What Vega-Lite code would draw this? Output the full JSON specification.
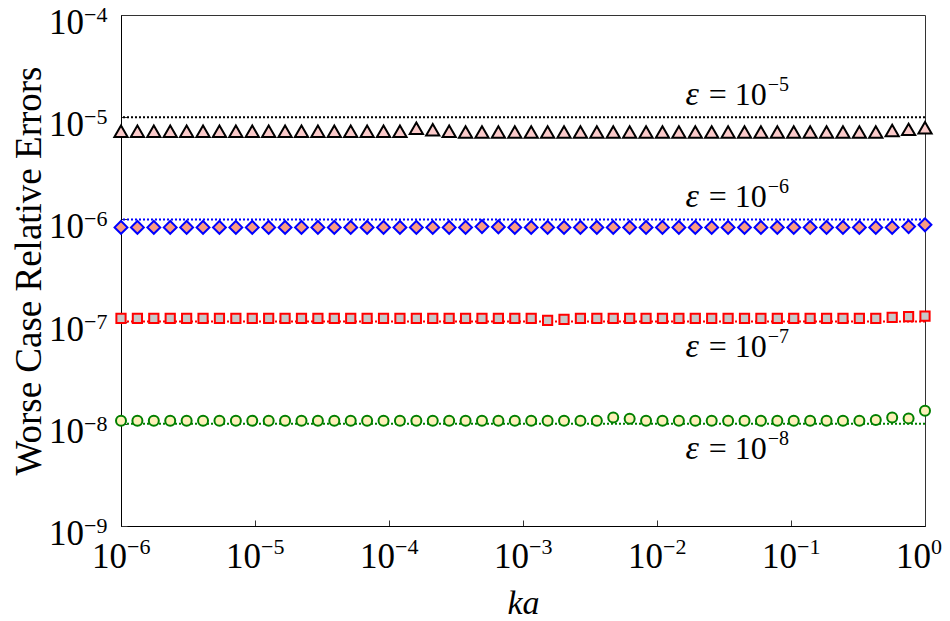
{
  "$schema": "https://vega.github.io/schema/vega-lite/v6.json",
  "width": 804,
  "height": 511,
  "autosize": {"type": "none"},
  "padding": {"left": 121, "top": 15, "right": 25, "bottom": 95},
  "background": "white",
  "config": {
    "view": {"stroke": "#333333", "strokeWidth": 1},
    "font": "Liberation Serif",
    "axis": {
      "grid": false,
      "labels": false,
      "domainColor": "#000000",
      "domainWidth": 1,
      "tickColor": "#333333",
      "titleFont": "Liberation Serif",
      "titleColor": "#000000",
      "titleFontWeight": "normal"
    },
    "text": {"font": "Liberation Serif", "color": "#000000"}
  },
  "datasets": {
    "pts": [
      {"ka": 1.0e-6, "e5": 7.3e-6, "e6": 8.35e-7, "e7": 1.075e-7, "e8": 1.07e-8},
      {"ka": 1.3257e-6, "e5": 7.3e-6, "e6": 8.35e-7, "e7": 1.075e-7, "e8": 1.07e-8},
      {"ka": 1.7575e-6, "e5": 7.3e-6, "e6": 8.35e-7, "e7": 1.075e-7, "e8": 1.07e-8},
      {"ka": 2.3300e-6, "e5": 7.3e-6, "e6": 8.35e-7, "e7": 1.075e-7, "e8": 1.07e-8},
      {"ka": 3.0888e-6, "e5": 7.3e-6, "e6": 8.35e-7, "e7": 1.075e-7, "e8": 1.07e-8},
      {"ka": 4.0949e-6, "e5": 7.3e-6, "e6": 8.35e-7, "e7": 1.075e-7, "e8": 1.07e-8},
      {"ka": 5.4287e-6, "e5": 7.3e-6, "e6": 8.35e-7, "e7": 1.075e-7, "e8": 1.07e-8},
      {"ka": 7.1969e-6, "e5": 7.3e-6, "e6": 8.35e-7, "e7": 1.075e-7, "e8": 1.07e-8},
      {"ka": 9.5410e-6, "e5": 7.3e-6, "e6": 8.35e-7, "e7": 1.075e-7, "e8": 1.07e-8},
      {"ka": 1.2649e-5, "e5": 7.3e-6, "e6": 8.35e-7, "e7": 1.075e-7, "e8": 1.07e-8},
      {"ka": 1.6768e-5, "e5": 7.3e-6, "e6": 8.35e-7, "e7": 1.075e-7, "e8": 1.07e-8},
      {"ka": 2.2230e-5, "e5": 7.3e-6, "e6": 8.35e-7, "e7": 1.075e-7, "e8": 1.07e-8},
      {"ka": 2.9471e-5, "e5": 7.3e-6, "e6": 8.35e-7, "e7": 1.075e-7, "e8": 1.07e-8},
      {"ka": 3.9069e-5, "e5": 7.3e-6, "e6": 8.35e-7, "e7": 1.075e-7, "e8": 1.07e-8},
      {"ka": 5.1795e-5, "e5": 7.3e-6, "e6": 8.35e-7, "e7": 1.075e-7, "e8": 1.07e-8},
      {"ka": 6.8665e-5, "e5": 7.3e-6, "e6": 8.35e-7, "e7": 1.075e-7, "e8": 1.07e-8},
      {"ka": 9.1030e-5, "e5": 7.3e-6, "e6": 8.35e-7, "e7": 1.075e-7, "e8": 1.07e-8},
      {"ka": 1.2068e-4, "e5": 7.3e-6, "e6": 8.35e-7, "e7": 1.075e-7, "e8": 1.07e-8},
      {"ka": 1.5999e-4, "e5": 7.8e-6, "e6": 8.35e-7, "e7": 1.075e-7, "e8": 1.07e-8},
      {"ka": 2.1210e-4, "e5": 7.55e-6, "e6": 8.35e-7, "e7": 1.075e-7, "e8": 1.07e-8},
      {"ka": 2.8118e-4, "e5": 7.3e-6, "e6": 8.35e-7, "e7": 1.075e-7, "e8": 1.07e-8},
      {"ka": 3.7276e-4, "e5": 7.15e-6, "e6": 8.35e-7, "e7": 1.075e-7, "e8": 1.07e-8},
      {"ka": 4.9417e-4, "e5": 7.15e-6, "e6": 8.5e-7, "e7": 1.075e-7, "e8": 1.07e-8},
      {"ka": 6.5513e-4, "e5": 7.15e-6, "e6": 8.45e-7, "e7": 1.075e-7, "e8": 1.07e-8},
      {"ka": 8.6851e-4, "e5": 7.15e-6, "e6": 8.35e-7, "e7": 1.075e-7, "e8": 1.07e-8},
      {"ka": 1.1514e-3, "e5": 7.15e-6, "e6": 8.35e-7, "e7": 1.075e-7, "e8": 1.07e-8},
      {"ka": 1.5264e-3, "e5": 7.15e-6, "e6": 8.35e-7, "e7": 1.03e-7, "e8": 1.07e-8},
      {"ka": 2.0236e-3, "e5": 7.15e-6, "e6": 8.35e-7, "e7": 1.05e-7, "e8": 1.07e-8},
      {"ka": 2.6827e-3, "e5": 7.15e-6, "e6": 8.35e-7, "e7": 1.075e-7, "e8": 1.07e-8},
      {"ka": 3.5565e-3, "e5": 7.15e-6, "e6": 8.35e-7, "e7": 1.075e-7, "e8": 1.07e-8},
      {"ka": 4.7149e-3, "e5": 7.15e-6, "e6": 8.35e-7, "e7": 1.075e-7, "e8": 1.15e-8},
      {"ka": 6.2506e-3, "e5": 7.15e-6, "e6": 8.35e-7, "e7": 1.075e-7, "e8": 1.12e-8},
      {"ka": 8.2864e-3, "e5": 7.15e-6, "e6": 8.35e-7, "e7": 1.075e-7, "e8": 1.07e-8},
      {"ka": 1.0985e-2, "e5": 7.15e-6, "e6": 8.35e-7, "e7": 1.075e-7, "e8": 1.07e-8},
      {"ka": 1.4563e-2, "e5": 7.15e-6, "e6": 8.35e-7, "e7": 1.075e-7, "e8": 1.07e-8},
      {"ka": 1.9307e-2, "e5": 7.15e-6, "e6": 8.35e-7, "e7": 1.075e-7, "e8": 1.07e-8},
      {"ka": 2.5595e-2, "e5": 7.15e-6, "e6": 8.35e-7, "e7": 1.075e-7, "e8": 1.07e-8},
      {"ka": 3.3932e-2, "e5": 7.15e-6, "e6": 8.35e-7, "e7": 1.075e-7, "e8": 1.07e-8},
      {"ka": 4.4984e-2, "e5": 7.15e-6, "e6": 8.35e-7, "e7": 1.075e-7, "e8": 1.07e-8},
      {"ka": 5.9636e-2, "e5": 7.15e-6, "e6": 8.35e-7, "e7": 1.075e-7, "e8": 1.07e-8},
      {"ka": 7.9060e-2, "e5": 7.15e-6, "e6": 8.35e-7, "e7": 1.075e-7, "e8": 1.07e-8},
      {"ka": 0.10481, "e5": 7.15e-6, "e6": 8.35e-7, "e7": 1.075e-7, "e8": 1.07e-8},
      {"ka": 0.13895, "e5": 7.15e-6, "e6": 8.35e-7, "e7": 1.075e-7, "e8": 1.07e-8},
      {"ka": 0.18421, "e5": 7.15e-6, "e6": 8.35e-7, "e7": 1.075e-7, "e8": 1.07e-8},
      {"ka": 0.24421, "e5": 7.15e-6, "e6": 8.35e-7, "e7": 1.075e-7, "e8": 1.07e-8},
      {"ka": 0.32375, "e5": 7.15e-6, "e6": 8.35e-7, "e7": 1.075e-7, "e8": 1.07e-8},
      {"ka": 0.42919, "e5": 7.15e-6, "e6": 8.35e-7, "e7": 1.075e-7, "e8": 1.09e-8},
      {"ka": 0.56899, "e5": 7.4e-6, "e6": 8.35e-7, "e7": 1.1e-7, "e8": 1.15e-8},
      {"ka": 0.75431, "e5": 7.6e-6, "e6": 8.5e-7, "e7": 1.12e-7, "e8": 1.13e-8},
      {"ka": 1.0, "e5": 7.9e-6, "e6": 8.85e-7, "e7": 1.13e-7, "e8": 1.34e-8}
    ],
    "eps": [
      {"eps": 1e-5, "name": "e5", "sym": "ε", "base": "= 10", "exp": "−5", "pos": "above"},
      {"eps": 1e-6, "name": "e6", "sym": "ε", "base": "= 10", "exp": "−6", "pos": "above"},
      {"eps": 1e-7, "name": "e7", "sym": "ε", "base": "= 10", "exp": "−7", "pos": "below"},
      {"eps": 1e-8, "name": "e8", "sym": "ε", "base": "= 10", "exp": "−8", "pos": "below"}
    ],
    "xt": [
      {"v": 1e-6, "b": "10", "e": "−6"},
      {"v": 1e-5, "b": "10", "e": "−5"},
      {"v": 1e-4, "b": "10", "e": "−4"},
      {"v": 1e-3, "b": "10", "e": "−3"},
      {"v": 1e-2, "b": "10", "e": "−2"},
      {"v": 1e-1, "b": "10", "e": "−1"},
      {"v": 1, "b": "10", "e": "0"}
    ],
    "yt": [
      {"v": 1e-9, "b": "10", "e": "−9"},
      {"v": 1e-8, "b": "10", "e": "−8"},
      {"v": 1e-7, "b": "10", "e": "−7"},
      {"v": 1e-6, "b": "10", "e": "−6"},
      {"v": 1e-5, "b": "10", "e": "−5"},
      {"v": 1e-4, "b": "10", "e": "−4"}
    ]
  },
  "layer": [
    {
      "data": {"name": "eps"},
      "mark": {"type": "rule", "strokeWidth": 2, "strokeDash": [2, 2]},
      "encoding": {
        "y": {
          "field": "eps", "type": "quantitative",
          "scale": {"type": "log", "domain": [1e-9, 1e-4]},
          "axis": {
            "values": [1e-9, 1e-8, 1e-7, 1e-6, 1e-5, 1e-4],
            "title": "Worse Case Relative Errors",
            "titleFontSize": 37,
            "titlePadding": 72,
            "tickSize": -6
          }
        },
        "color": {
          "field": "name", "type": "nominal",
          "scale": {"domain": ["e5", "e6", "e7", "e8"], "range": ["#000000", "#0000ff", "#ff0000", "#008000"]},
          "legend": null
        }
      }
    },
    {
      "data": {"name": "pts"},
      "mark": {"type": "point", "shape": "triangle-up", "size": 175, "filled": false, "fill": "#fbcaca", "fillOpacity": 1, "stroke": "#000000", "strokeWidth": 2, "opacity": 1},
      "encoding": {
        "x": {
          "field": "ka", "type": "quantitative",
          "scale": {"type": "log", "domain": [1e-6, 1]},
          "axis": {
            "values": [1e-6, 1e-5, 1e-4, 1e-3, 1e-2, 1e-1, 1],
            "title": "ka",
            "titleFontSize": 34,
            "titleFontStyle": "italic",
            "titlePadding": 60,
            "tickSize": -6
          }
        },
        "y": {"field": "e5", "type": "quantitative", "scale": {"type": "log", "domain": [1e-9, 1e-4]}}
      }
    },
    {
      "data": {"name": "pts"},
      "mark": {"type": "point", "shape": "diamond", "size": 165, "filled": false, "fill": "#f99b82", "fillOpacity": 1, "stroke": "#0000ff", "strokeWidth": 2, "opacity": 1},
      "encoding": {
        "x": {"field": "ka", "type": "quantitative", "scale": {"type": "log", "domain": [1e-6, 1]}},
        "y": {"field": "e6", "type": "quantitative", "scale": {"type": "log", "domain": [1e-9, 1e-4]}}
      }
    },
    {
      "data": {"name": "pts"},
      "mark": {"type": "point", "shape": "square", "size": 85, "filled": false, "fill": "#c8c8c8", "fillOpacity": 1, "stroke": "#ff0000", "strokeWidth": 2, "opacity": 1},
      "encoding": {
        "x": {"field": "ka", "type": "quantitative", "scale": {"type": "log", "domain": [1e-6, 1]}},
        "y": {"field": "e7", "type": "quantitative", "scale": {"type": "log", "domain": [1e-9, 1e-4]}}
      }
    },
    {
      "data": {"name": "pts"},
      "mark": {"type": "point", "shape": "circle", "size": 100, "filled": false, "fill": "#fdf0b8", "fillOpacity": 1, "stroke": "#007f00", "strokeWidth": 2, "opacity": 1},
      "encoding": {
        "x": {"field": "ka", "type": "quantitative", "scale": {"type": "log", "domain": [1e-6, 1]}},
        "y": {"field": "e8", "type": "quantitative", "scale": {"type": "log", "domain": [1e-9, 1e-4]}}
      }
    },
    {
      "data": {"name": "xt"},
      "mark": {"type": "text", "align": "right", "baseline": "alphabetic", "dx": 6, "dy": 42, "fontSize": 35},
      "encoding": {
        "x": {"field": "v", "type": "quantitative", "scale": {"type": "log", "domain": [1e-6, 1]}},
        "y": {"datum": 1e-9, "type": "quantitative", "scale": {"type": "log", "domain": [1e-9, 1e-4]}},
        "text": {"field": "b"}
      }
    },
    {
      "data": {"name": "xt"},
      "mark": {"type": "text", "align": "left", "baseline": "alphabetic", "dx": 6, "dy": 28, "fontSize": 22},
      "encoding": {
        "x": {"field": "v", "type": "quantitative", "scale": {"type": "log", "domain": [1e-6, 1]}},
        "y": {"datum": 1e-9, "type": "quantitative", "scale": {"type": "log", "domain": [1e-9, 1e-4]}},
        "text": {"field": "e"}
      }
    },
    {
      "data": {"name": "yt"},
      "mark": {"type": "text", "align": "right", "baseline": "alphabetic", "dx": -37, "dy": 19, "fontSize": 35},
      "encoding": {
        "x": {"datum": 1e-6, "type": "quantitative", "scale": {"type": "log", "domain": [1e-6, 1]}},
        "y": {"field": "v", "type": "quantitative", "scale": {"type": "log", "domain": [1e-9, 1e-4]}},
        "text": {"field": "b"}
      }
    },
    {
      "data": {"name": "yt"},
      "mark": {"type": "text", "align": "left", "baseline": "alphabetic", "dx": -37, "dy": 7, "fontSize": 22},
      "encoding": {
        "x": {"datum": 1e-6, "type": "quantitative", "scale": {"type": "log", "domain": [1e-6, 1]}},
        "y": {"field": "v", "type": "quantitative", "scale": {"type": "log", "domain": [1e-9, 1e-4]}},
        "text": {"field": "e"}
      }
    },
    {
      "data": {"name": "eps"},
      "transform": [{"filter": "datum.pos === 'above'"}],
      "mark": {"type": "text", "align": "right", "baseline": "alphabetic", "dy": -12, "fontSize": 32},
      "encoding": {
        "x": {"datum": 0.066, "type": "quantitative", "scale": {"type": "log", "domain": [1e-6, 1]}},
        "y": {"field": "eps", "type": "quantitative", "scale": {"type": "log", "domain": [1e-9, 1e-4]}},
        "text": {"field": "base"}
      }
    },
    {
      "data": {"name": "eps"},
      "transform": [{"filter": "datum.pos === 'above'"}],
      "mark": {"type": "text", "align": "right", "baseline": "alphabetic", "dx": -68, "dy": -12, "fontSize": 34, "fontStyle": "italic"},
      "encoding": {
        "x": {"datum": 0.066, "type": "quantitative", "scale": {"type": "log", "domain": [1e-6, 1]}},
        "y": {"field": "eps", "type": "quantitative", "scale": {"type": "log", "domain": [1e-9, 1e-4]}},
        "text": {"field": "sym"}
      }
    },
    {
      "data": {"name": "eps"},
      "transform": [{"filter": "datum.pos === 'above'"}],
      "mark": {"type": "text", "align": "left", "baseline": "alphabetic", "dx": 1, "dy": -26, "fontSize": 20},
      "encoding": {
        "x": {"datum": 0.066, "type": "quantitative", "scale": {"type": "log", "domain": [1e-6, 1]}},
        "y": {"field": "eps", "type": "quantitative", "scale": {"type": "log", "domain": [1e-9, 1e-4]}},
        "text": {"field": "exp"}
      }
    },
    {
      "data": {"name": "eps"},
      "transform": [{"filter": "datum.pos === 'below'"}],
      "mark": {"type": "text", "align": "right", "baseline": "alphabetic", "dy": 35, "fontSize": 32},
      "encoding": {
        "x": {"datum": 0.066, "type": "quantitative", "scale": {"type": "log", "domain": [1e-6, 1]}},
        "y": {"field": "eps", "type": "quantitative", "scale": {"type": "log", "domain": [1e-9, 1e-4]}},
        "text": {"field": "base"}
      }
    },
    {
      "data": {"name": "eps"},
      "transform": [{"filter": "datum.pos === 'below'"}],
      "mark": {"type": "text", "align": "right", "baseline": "alphabetic", "dx": -68, "dy": 35, "fontSize": 34, "fontStyle": "italic"},
      "encoding": {
        "x": {"datum": 0.066, "type": "quantitative", "scale": {"type": "log", "domain": [1e-6, 1]}},
        "y": {"field": "eps", "type": "quantitative", "scale": {"type": "log", "domain": [1e-9, 1e-4]}},
        "text": {"field": "sym"}
      }
    },
    {
      "data": {"name": "eps"},
      "transform": [{"filter": "datum.pos === 'below'"}],
      "mark": {"type": "text", "align": "left", "baseline": "alphabetic", "dx": 1, "dy": 21, "fontSize": 20},
      "encoding": {
        "x": {"datum": 0.066, "type": "quantitative", "scale": {"type": "log", "domain": [1e-6, 1]}},
        "y": {"field": "eps", "type": "quantitative", "scale": {"type": "log", "domain": [1e-9, 1e-4]}},
        "text": {"field": "exp"}
      }
    }
  ]
}
